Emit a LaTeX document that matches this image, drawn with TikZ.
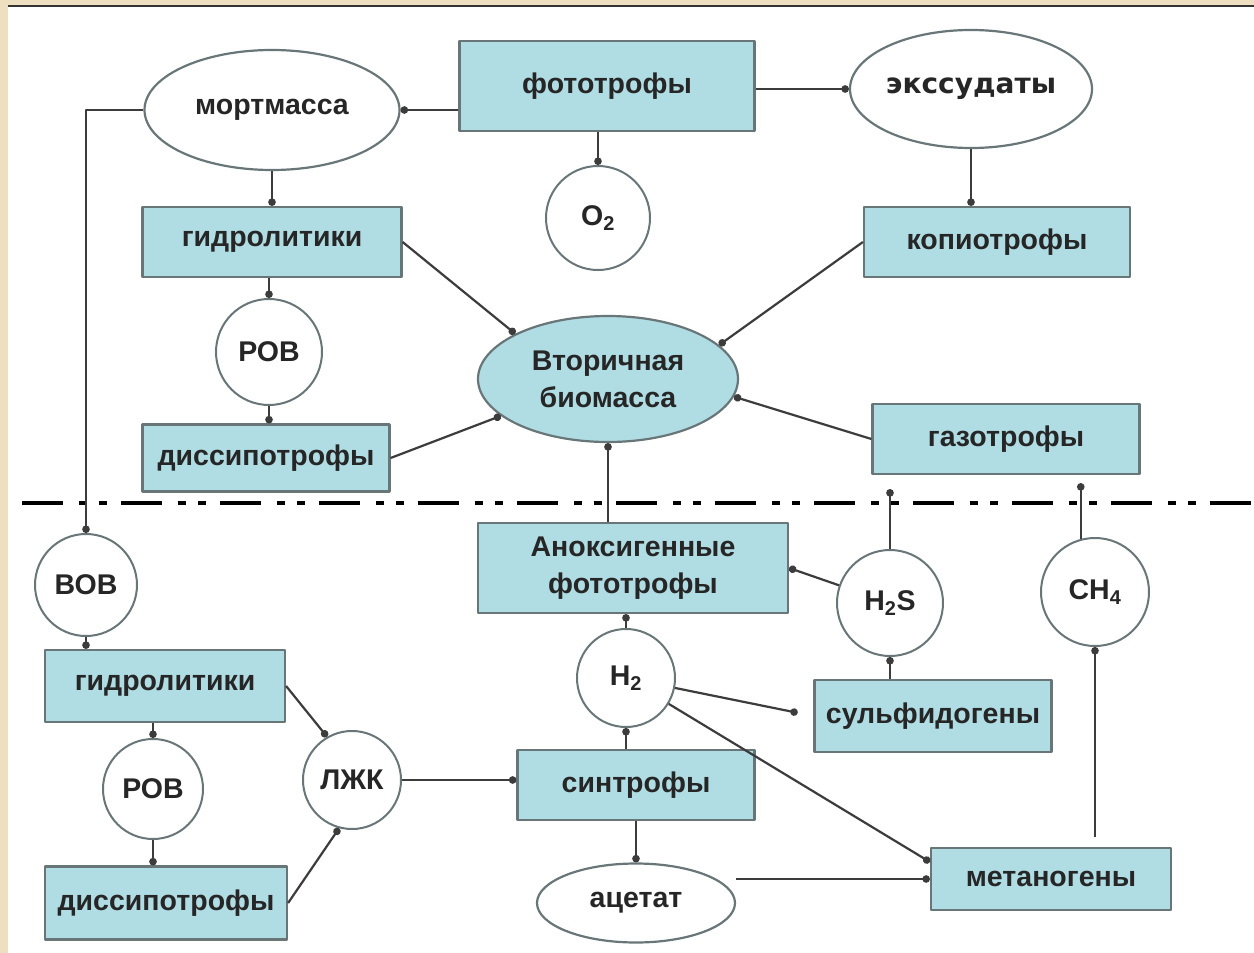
\documentclass[tikz,border=0pt]{standalone}
\usepackage{fontspec}
\setmainfont{Liberation Sans}
\newfontfamily\dejafont{DejaVu Sans}
\usetikzlibrary{shapes.geometric,arrows.meta}
\definecolor{cellfill}{RGB}{176,221,228}
\definecolor{cellline}{RGB}{105,118,120}
\definecolor{linkline}{RGB}{60,60,60}
\definecolor{paper}{RGB}{238,223,192}
\begin{document}
\begin{tikzpicture}[x=1pt, y=-1pt, line join=round,
		font=\fontsize{28.5}{37}\selectfont\bfseries,
		every node/.style={text=black!85, inner sep=0pt, align=center},
		sz/.style 2 args={minimum width=#1pt, minimum height=#2pt},
		box/.style={draw=cellline, line width=2.2pt, fill=cellfill, rectangle},
		blob/.style={draw=cellline, line width=2.2pt, fill=white, ellipse},
		gas/.style={draw=cellline, line width=2pt, fill=white, circle, minimum size=#1pt},
		link/.style={draw=linkline, line width=2.2pt, -{Circle[length=7.5pt]}}]
	\useasboundingbox (0,0) rectangle (1254,953);
	\fill[paper] (0,0) rectangle (1254,953);
	\fill[white] (8,7) rectangle (1254,953);
	\draw[black!80, line width=2pt] (8,6) -- (1254,6);
	% aerobic zone
	\node[box, sz={295}{90}] (fot) at (607,86) {фототрофы};
	\node[blob, sz={255}{120}] (mort) at (272,110) {мортмасса};
	\node[blob, sz={242}{118}, font=\fontsize{28}{30}\selectfont\dejafont\bfseries] (exs) at (971,89) {экссудаты};
	\node[gas=104] (otwo) at (598,218) {O\textsubscript{2}};
	\node[box, sz={259}{70}] (hydA) at (272,242) {гидролитики};
	\node[box, sz={266}{70}] (kop) at (997,242) {копиотрофы};
	\node[gas=106] (rovA) at (269,352) {РОВ};
	\node[blob, fill=cellfill, sz={260}{126}] (bio) at (608,379) {Вторичная\\биомасса};
	\node[box, sz={247}{67}] (disA) at (266,458) {диссипотрофы};
	\node[box, sz={267}{70}] (gaz) at (1006,439) {газотрофы};
	% anaerobic zone
	\node[gas=102] (vov) at (86,585) {ВОВ};
	\node[box, sz={240}{72}] (hydB) at (165,686) {гидролитики};
	\node[gas=100] (rovB) at (153,789) {РОВ};
	\node[gas=98] (lzk) at (352,780) {ЛЖК};
	\node[box, sz={242}{73}] (disB) at (166,903) {диссипотрофы};
	\node[box, sz={310}{90}] (anox) at (633,568) {Аноксигенные\\фототрофы};
	\node[gas=98] (htwo) at (626,678) {H\textsubscript{2}};
	\node[box, sz={237}{70}] (sin) at (636,785) {синтрофы};
	\node[blob, sz={198}{79}] (ace) at (636,903) {ацетат};
	\node[gas=106] (hs) at (890,603) {H\textsubscript{2}S};
	\node[gas=108] (ch) at (1095,592) {CH\textsubscript{4}};
	\node[box, sz={237}{72}] (sulf) at (933,716) {сульфидогены};
	\node[box, sz={240}{62}] (met) at (1051,879) {метаногены};
	% border between zones
	\draw[line width=4.5pt, dash pattern=on 41pt off 16pt on 8pt off 12pt on 8pt off 14pt] (22,503) -- (1254,503);
	% flows
	\foreach \a/\b in {mort/hydA, hydA.east/bio.154, kop.west/bio.17, disA.east/bio.199,
			gaz.west/bio.352, hs/anox.east, sin/ace, hydB.east/lzk.120, disB.east/lzk.255, htwo/met.172}
		\draw[link] (\a) -- (\b);
	\draw[link] (fot.west |- mort) -- (mort);
	\draw[link] (fot.east |- exs) -- (exs);
	\draw[link] (fot.south -| otwo) -- (otwo);
	\draw[link] (mort.west) -| (vov);
	\draw[link] (exs) -- (exs |- kop.north);
	\draw[link] (hydA.south -| rovA) -- (rovA);
	\draw[link] (rovA) -- (rovA |- disA.north);
	\draw[link] (anox.north -| bio) -- (bio);
	\draw[link, shorten >=14pt] (hs) -- (hs |- gaz.south);
	\draw[link, shorten >=8pt] (ch.105) -- (ch.105 |- gaz.south);
	\draw[link] (sulf.north -| hs) -- (hs);
	\draw[link, shorten <=10pt] (met.north -| ch) -- (ch);
	\draw[link] (vov) -- (vov |- hydB.north);
	\draw[link] (hydB.south -| rovB) -- (rovB);
	\draw[link] (rovB) -- (rovB |- disB.north);
	\draw[link] (lzk) -- (lzk -| sin.west);
	\draw[link] (sin.north -| htwo) -- (htwo);
	\draw[link] (htwo) -- (htwo |- anox.south);
	\draw[link, shorten >=16pt] (htwo) -- (sulf.west);
	\draw[link] (ace.east |- met.west) -- (met.west);
\end{tikzpicture}
\end{document}
